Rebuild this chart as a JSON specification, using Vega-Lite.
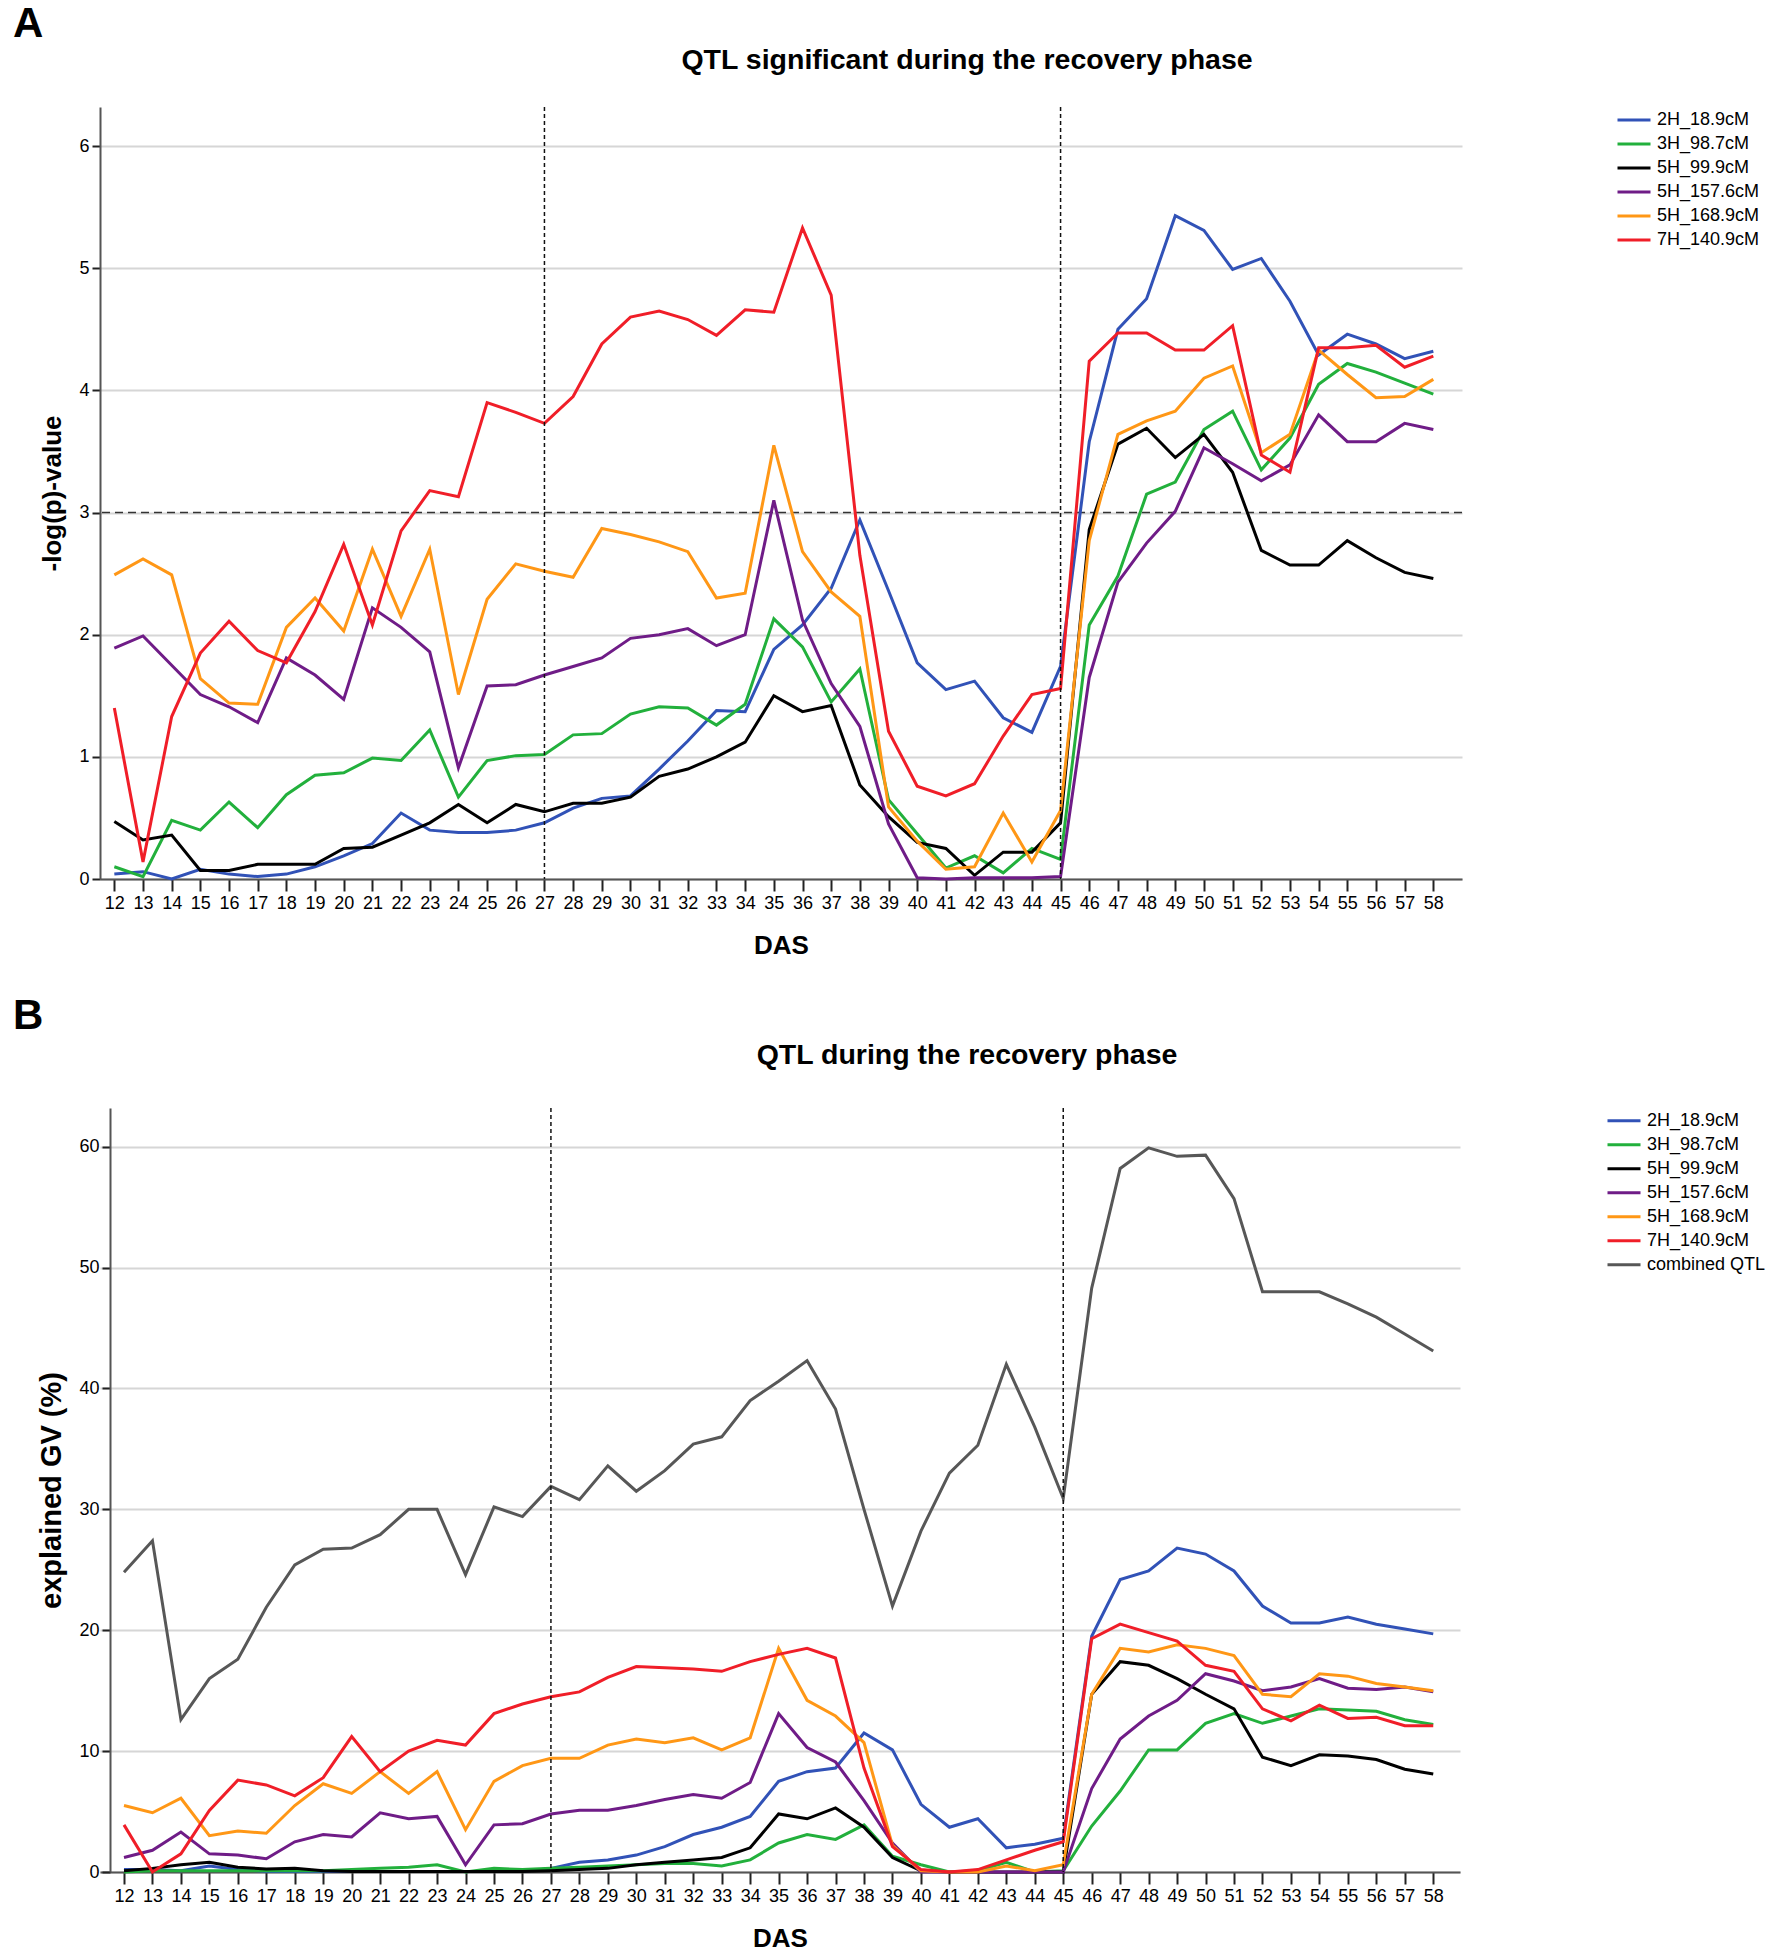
{
  "$schema": "https://vega.github.io/schema/vega-lite/v6.json",
  "background": "white",
  "padding": {"left": 12, "top": 2, "right": 0, "bottom": 0},
  "config": {
    "view": {"stroke": null},
    "font": "Liberation Sans",
    "title": {"color": "black", "font": "Liberation Sans"},
    "axis": {"labelColor": "black", "titleColor": "black", "labelFont": "Liberation Sans", "titleFont": "Liberation Sans"},
    "axisX": {
      "grid": false, "labelFontSize": 18, "labelOverlap": false, "labelFlush": false,
      "tickSize": 12, "tickWidth": 2, "tickColor": "#222222", "domainColor": "#555555", "domainWidth": 2,
      "labelPadding": 3, "titleFontSize": 26, "titleFontWeight": "bold", "titlePadding": 20
    },
    "axisY": {
      "grid": true, "gridColor": "#d6d6d6", "gridWidth": 2, "labelFontSize": 18,
      "tickSize": 8, "tickWidth": 2, "tickColor": "#222222", "domainColor": "#555555", "domainWidth": 2,
      "labelPadding": 3, "titleFontSize": 26, "titleFontWeight": "bold"
    },
    "legend": {"labelColor": "black", "labelFont": "Liberation Sans"}
  },
  "datasets": {
    "qa": [
      {"d":12,"s1":0.04,"s2":0.10,"s3":0.47,"s4":1.89,"s5":2.49,"s6":1.40},
      {"d":13,"s1":0.06,"s2":0.02,"s3":0.32,"s4":1.99,"s5":2.62,"s6":0.14},
      {"d":14,"s1":0.00,"s2":0.48,"s3":0.36,"s4":1.75,"s5":2.49,"s6":1.33},
      {"d":15,"s1":0.08,"s2":0.40,"s3":0.07,"s4":1.51,"s5":1.64,"s6":1.85},
      {"d":16,"s1":0.04,"s2":0.63,"s3":0.07,"s4":1.41,"s5":1.44,"s6":2.11},
      {"d":17,"s1":0.02,"s2":0.42,"s3":0.12,"s4":1.28,"s5":1.43,"s6":1.87},
      {"d":18,"s1":0.04,"s2":0.69,"s3":0.12,"s4":1.81,"s5":2.06,"s6":1.77},
      {"d":19,"s1":0.10,"s2":0.85,"s3":0.12,"s4":1.67,"s5":2.30,"s6":2.19},
      {"d":20,"s1":0.19,"s2":0.87,"s3":0.25,"s4":1.47,"s5":2.03,"s6":2.74},
      {"d":21,"s1":0.29,"s2":0.99,"s3":0.26,"s4":2.22,"s5":2.70,"s6":2.08},
      {"d":22,"s1":0.54,"s2":0.97,"s3":0.36,"s4":2.06,"s5":2.15,"s6":2.85},
      {"d":23,"s1":0.40,"s2":1.22,"s3":0.46,"s4":1.86,"s5":2.70,"s6":3.18},
      {"d":24,"s1":0.38,"s2":0.67,"s3":0.61,"s4":0.91,"s5":1.51,"s6":3.13},
      {"d":25,"s1":0.38,"s2":0.97,"s3":0.46,"s4":1.58,"s5":2.29,"s6":3.90},
      {"d":26,"s1":0.40,"s2":1.01,"s3":0.61,"s4":1.59,"s5":2.58,"s6":3.82},
      {"d":27,"s1":0.46,"s2":1.02,"s3":0.55,"s4":1.67,"s5":2.52,"s6":3.73},
      {"d":28,"s1":0.58,"s2":1.18,"s3":0.62,"s4":1.74,"s5":2.47,"s6":3.95},
      {"d":29,"s1":0.66,"s2":1.19,"s3":0.62,"s4":1.81,"s5":2.87,"s6":4.38},
      {"d":30,"s1":0.68,"s2":1.35,"s3":0.67,"s4":1.97,"s5":2.82,"s6":4.60},
      {"d":31,"s1":0.90,"s2":1.41,"s3":0.84,"s4":2.00,"s5":2.76,"s6":4.65},
      {"d":32,"s1":1.13,"s2":1.40,"s3":0.90,"s4":2.05,"s5":2.68,"s6":4.58},
      {"d":33,"s1":1.38,"s2":1.26,"s3":1.00,"s4":1.91,"s5":2.30,"s6":4.45},
      {"d":34,"s1":1.37,"s2":1.43,"s3":1.12,"s4":2.00,"s5":2.34,"s6":4.66},
      {"d":35,"s1":1.88,"s2":2.13,"s3":1.50,"s4":3.10,"s5":3.55,"s6":4.64},
      {"d":36,"s1":2.08,"s2":1.90,"s3":1.37,"s4":2.12,"s5":2.68,"s6":5.33},
      {"d":37,"s1":2.38,"s2":1.45,"s3":1.42,"s4":1.60,"s5":2.35,"s6":4.78},
      {"d":38,"s1":2.94,"s2":1.72,"s3":0.77,"s4":1.25,"s5":2.15,"s6":2.65},
      {"d":39,"s1":2.36,"s2":0.65,"s3":0.51,"s4":0.45,"s5":0.59,"s6":1.21},
      {"d":40,"s1":1.77,"s2":0.37,"s3":0.30,"s4":0.01,"s5":0.31,"s6":0.76},
      {"d":41,"s1":1.55,"s2":0.09,"s3":0.25,"s4":0.00,"s5":0.08,"s6":0.68},
      {"d":42,"s1":1.62,"s2":0.19,"s3":0.03,"s4":0.01,"s5":0.10,"s6":0.78},
      {"d":43,"s1":1.32,"s2":0.05,"s3":0.22,"s4":0.01,"s5":0.54,"s6":1.17},
      {"d":44,"s1":1.20,"s2":0.25,"s3":0.22,"s4":0.01,"s5":0.14,"s6":1.51},
      {"d":45,"s1":1.74,"s2":0.16,"s3":0.46,"s4":0.02,"s5":0.56,"s6":1.56},
      {"d":46,"s1":3.58,"s2":2.08,"s3":2.86,"s4":1.65,"s5":2.77,"s6":4.24},
      {"d":47,"s1":4.50,"s2":2.48,"s3":3.56,"s4":2.43,"s5":3.64,"s6":4.47},
      {"d":48,"s1":4.75,"s2":3.15,"s3":3.69,"s4":2.75,"s5":3.75,"s6":4.47},
      {"d":49,"s1":5.43,"s2":3.25,"s3":3.45,"s4":3.01,"s5":3.83,"s6":4.33},
      {"d":50,"s1":5.31,"s2":3.68,"s3":3.64,"s4":3.53,"s5":4.10,"s6":4.33},
      {"d":51,"s1":4.99,"s2":3.83,"s3":3.33,"s4":3.40,"s5":4.20,"s6":4.53},
      {"d":52,"s1":5.08,"s2":3.35,"s3":2.69,"s4":3.26,"s5":3.49,"s6":3.47},
      {"d":53,"s1":4.73,"s2":3.61,"s3":2.57,"s4":3.39,"s5":3.64,"s6":3.33},
      {"d":54,"s1":4.29,"s2":4.05,"s3":2.57,"s4":3.80,"s5":4.33,"s6":4.35},
      {"d":55,"s1":4.46,"s2":4.22,"s3":2.77,"s4":3.58,"s5":4.13,"s6":4.35},
      {"d":56,"s1":4.38,"s2":4.15,"s3":2.63,"s4":3.58,"s5":3.94,"s6":4.37},
      {"d":57,"s1":4.26,"s2":4.06,"s3":2.51,"s4":3.73,"s5":3.95,"s6":4.19},
      {"d":58,"s1":4.32,"s2":3.97,"s3":2.46,"s4":3.68,"s5":4.09,"s6":4.28}
    ],
    "qb": [
      {"d":12,"s1":0.2,"s2":0.0,"s3":0.1,"s4":1.2,"s5":5.5,"s6":3.9,"s7":24.8},
      {"d":13,"s1":0.2,"s2":0.1,"s3":0.3,"s4":1.8,"s5":4.9,"s6":0.0,"s7":27.4},
      {"d":14,"s1":0.1,"s2":0.1,"s3":0.6,"s4":3.3,"s5":6.1,"s6":1.5,"s7":12.6},
      {"d":15,"s1":0.5,"s2":0.1,"s3":0.8,"s4":1.5,"s5":3.0,"s6":5.1,"s7":16.0},
      {"d":16,"s1":0.2,"s2":0.1,"s3":0.4,"s4":1.4,"s5":3.4,"s6":7.6,"s7":17.6},
      {"d":17,"s1":0.05,"s2":0.1,"s3":0.25,"s4":1.1,"s5":3.2,"s6":7.2,"s7":21.9},
      {"d":18,"s1":0.05,"s2":0.1,"s3":0.3,"s4":2.5,"s5":5.5,"s6":6.3,"s7":25.4},
      {"d":19,"s1":0.05,"s2":0.1,"s3":0.1,"s4":3.1,"s5":7.3,"s6":7.8,"s7":26.7},
      {"d":20,"s1":0.05,"s2":0.2,"s3":0.05,"s4":2.9,"s5":6.5,"s6":11.2,"s7":26.8},
      {"d":21,"s1":0.05,"s2":0.3,"s3":0.05,"s4":4.9,"s5":8.3,"s6":8.3,"s7":27.9},
      {"d":22,"s1":0.05,"s2":0.4,"s3":0.05,"s4":4.4,"s5":6.5,"s6":10.0,"s7":30.0},
      {"d":23,"s1":0.05,"s2":0.6,"s3":0.05,"s4":4.6,"s5":8.3,"s6":10.9,"s7":30.0},
      {"d":24,"s1":0.05,"s2":0.0,"s3":0.05,"s4":0.6,"s5":3.5,"s6":10.5,"s7":24.6},
      {"d":25,"s1":0.05,"s2":0.3,"s3":0.05,"s4":3.9,"s5":7.5,"s6":13.1,"s7":30.2},
      {"d":26,"s1":0.05,"s2":0.2,"s3":0.05,"s4":4.0,"s5":8.8,"s6":13.9,"s7":29.4},
      {"d":27,"s1":0.3,"s2":0.3,"s3":0.1,"s4":4.8,"s5":9.4,"s6":14.5,"s7":31.9},
      {"d":28,"s1":0.8,"s2":0.4,"s3":0.2,"s4":5.1,"s5":9.4,"s6":14.9,"s7":30.8},
      {"d":29,"s1":1.0,"s2":0.5,"s3":0.3,"s4":5.1,"s5":10.5,"s6":16.1,"s7":33.6},
      {"d":30,"s1":1.4,"s2":0.6,"s3":0.6,"s4":5.5,"s5":11.0,"s6":17.0,"s7":31.5},
      {"d":31,"s1":2.1,"s2":0.7,"s3":0.8,"s4":6.0,"s5":10.7,"s6":16.9,"s7":33.2},
      {"d":32,"s1":3.1,"s2":0.7,"s3":1.0,"s4":6.4,"s5":11.1,"s6":16.8,"s7":35.4},
      {"d":33,"s1":3.7,"s2":0.5,"s3":1.2,"s4":6.1,"s5":10.1,"s6":16.6,"s7":36.0},
      {"d":34,"s1":4.6,"s2":1.0,"s3":2.0,"s4":7.4,"s5":11.1,"s6":17.4,"s7":39.0},
      {"d":35,"s1":7.5,"s2":2.4,"s3":4.8,"s4":13.1,"s5":18.5,"s6":18.0,"s7":40.6},
      {"d":36,"s1":8.3,"s2":3.1,"s3":4.4,"s4":10.3,"s5":14.2,"s6":18.5,"s7":42.3},
      {"d":37,"s1":8.6,"s2":2.7,"s3":5.3,"s4":9.1,"s5":12.9,"s6":17.7,"s7":38.3},
      {"d":38,"s1":11.5,"s2":3.9,"s3":3.7,"s4":5.9,"s5":10.7,"s6":8.6,"s7":30.0},
      {"d":39,"s1":10.1,"s2":1.3,"s3":1.2,"s4":2.4,"s5":2.2,"s6":2.1,"s7":22.0},
      {"d":40,"s1":5.6,"s2":0.6,"s3":0.1,"s4":0.0,"s5":0.1,"s6":0.2,"s7":28.2},
      {"d":41,"s1":3.7,"s2":0.0,"s3":0.0,"s4":0.0,"s5":0.0,"s6":0.0,"s7":33.0},
      {"d":42,"s1":4.4,"s2":0.1,"s3":0.0,"s4":0.0,"s5":0.0,"s6":0.2,"s7":35.3},
      {"d":43,"s1":2.0,"s2":0.8,"s3":0.0,"s4":0.0,"s5":0.5,"s6":1.0,"s7":42.0},
      {"d":44,"s1":2.3,"s2":0.0,"s3":0.0,"s4":0.0,"s5":0.1,"s6":1.8,"s7":36.8},
      {"d":45,"s1":2.8,"s2":0.1,"s3":0.0,"s4":0.0,"s5":0.6,"s6":2.5,"s7":30.9},
      {"d":46,"s1":19.5,"s2":3.8,"s3":14.7,"s4":6.9,"s5":14.7,"s6":19.3,"s7":48.3},
      {"d":47,"s1":24.2,"s2":6.7,"s3":17.4,"s4":11.0,"s5":18.5,"s6":20.5,"s7":58.2},
      {"d":48,"s1":24.9,"s2":10.1,"s3":17.1,"s4":12.9,"s5":18.2,"s6":19.8,"s7":59.9},
      {"d":49,"s1":26.8,"s2":10.1,"s3":16.0,"s4":14.2,"s5":18.8,"s6":19.1,"s7":59.2},
      {"d":50,"s1":26.3,"s2":12.3,"s3":14.7,"s4":16.4,"s5":18.5,"s6":17.1,"s7":59.3},
      {"d":51,"s1":24.9,"s2":13.1,"s3":13.5,"s4":15.8,"s5":17.9,"s6":16.6,"s7":55.7},
      {"d":52,"s1":22.0,"s2":12.3,"s3":9.5,"s4":15.0,"s5":14.7,"s6":13.5,"s7":48.0},
      {"d":53,"s1":20.6,"s2":12.9,"s3":8.8,"s4":15.3,"s5":14.5,"s6":12.5,"s7":48.0},
      {"d":54,"s1":20.6,"s2":13.5,"s3":9.7,"s4":16.0,"s5":16.4,"s6":13.8,"s7":48.0},
      {"d":55,"s1":21.1,"s2":13.4,"s3":9.6,"s4":15.2,"s5":16.2,"s6":12.7,"s7":47.0},
      {"d":56,"s1":20.5,"s2":13.3,"s3":9.3,"s4":15.1,"s5":15.6,"s6":12.8,"s7":45.9},
      {"d":57,"s1":20.1,"s2":12.6,"s3":8.5,"s4":15.3,"s5":15.3,"s6":12.1,"s7":44.5},
      {"d":58,"s1":19.7,"s2":12.2,"s3":8.1,"s4":14.9,"s5":15.0,"s6":12.1,"s7":43.1}
    ],
    "phases": [{"d": 27}, {"d": 45}],
    "threshold": [{"v": 3}]
  },
  "columns": 1,
  "spacing": 36,
  "resolve": {
    "scale": {"x": "independent", "y": "independent", "color": "independent"},
    "legend": {"color": "independent"}
  },
  "concat": [
    {
      "title": {"text": "A", "anchor": "start", "frame": "bounds", "fontSize": 42, "fontWeight": "bold", "dx": -27, "offset": 0},
      "vconcat": [
        {
          "title": {"text": "QTL significant during the recovery phase", "anchor": "middle", "frame": "group", "fontSize": 28.5, "fontWeight": "bold", "dx": 186, "offset": 32},
          "width": 1362,
          "height": 772,
          "layer": [
            {
              "data": {"name": "threshold"},
              "mark": {"type": "rule", "color": "#333333", "strokeWidth": 1.5, "strokeDash": [8, 5]},
              "encoding": {
                "y": {
                  "field": "v", "type": "quantitative", "title": "-log(p)-value",
                  "scale": {"domain": [0, 6.32], "nice": false},
                  "axis": {"values": [0, 1, 2, 3, 4, 5, 6], "format": "d", "titlePadding": 13}
                }
              }
            },
            {
              "data": {"name": "qa"},
              "transform": [{"fold": ["s1", "s2", "s3", "s4", "s5", "s6"], "as": ["k", "v"]}],
              "mark": {"type": "line", "strokeWidth": 3},
              "encoding": {
                "x": {
                  "field": "d", "type": "quantitative", "title": "DAS",
                  "scale": {"domain": [11.5, 59], "nice": false, "zero": false},
                  "axis": {"values": [12,13,14,15,16,17,18,19,20,21,22,23,24,25,26,27,28,29,30,31,32,33,34,35,36,37,38,39,40,41,42,43,44,45,46,47,48,49,50,51,52,53,54,55,56,57,58], "format": "d"}
                },
                "y": {
                  "field": "v", "type": "quantitative", "title": "-log(p)-value",
                  "scale": {"domain": [0, 6.32], "nice": false},
                  "axis": {"values": [0, 1, 2, 3, 4, 5, 6], "format": "d", "titlePadding": 13}
                },
                "color": {
                  "field": "k", "type": "nominal",
                  "scale": {"domain": ["s1", "s2", "s3", "s4", "s5", "s6"], "range": ["#3152b7", "#22b03c", "#000000", "#6f1c87", "#ff9716", "#f01e28"]},
                  "legend": {
                    "title": null, "orient": "none", "legendX": 1516, "legendY": 1, "padding": 0,
                    "symbolType": "stroke", "symbolSize": 1089, "symbolStrokeWidth": 3,
                    "labelFontSize": 18, "labelOffset": 5, "rowPadding": 0, "clipHeight": 24,
                    "labelExpr": "{'s1':'2H_18.9cM','s2':'3H_98.7cM','s3':'5H_99.9cM','s4':'5H_157.6cM','s5':'5H_168.9cM','s6':'7H_140.9cM'}[datum.value]"
                  }
                }
              }
            },
            {
              "data": {"name": "phases"},
              "mark": {"type": "rule", "color": "#111111", "strokeWidth": 1.5, "strokeDash": [4, 3]},
              "encoding": {
                "x": {
                  "field": "d", "type": "quantitative", "title": "DAS",
                  "scale": {"domain": [11.5, 59], "nice": false, "zero": false},
                  "axis": {"values": [12,13,14,15,16,17,18,19,20,21,22,23,24,25,26,27,28,29,30,31,32,33,34,35,36,37,38,39,40,41,42,43,44,45,46,47,48,49,50,51,52,53,54,55,56,57,58], "format": "d"}
                }
              }
            }
          ]
        }
      ]
    },
    {
      "title": {"text": "B", "anchor": "start", "frame": "bounds", "fontSize": 42, "fontWeight": "bold", "dx": -25, "offset": 3},
      "vconcat": [
        {
          "title": {"text": "QTL during the recovery phase", "anchor": "middle", "frame": "group", "fontSize": 28.5, "fontWeight": "bold", "dx": 187, "offset": 38},
          "width": 1360,
          "height": 764,
          "layer": [
            {
              "data": {"name": "qb"},
              "transform": [{"fold": ["s7", "s1", "s2", "s3", "s4", "s5", "s6"], "as": ["k", "v"]}],
              "mark": {"type": "line", "strokeWidth": 3},
              "encoding": {
                "x": {
                  "field": "d", "type": "quantitative", "title": "DAS",
                  "scale": {"domain": [11.157, 58.94], "nice": false, "zero": false},
                  "axis": {"values": [12,13,14,15,16,17,18,19,20,21,22,23,24,25,26,27,28,29,30,31,32,33,34,35,36,37,38,39,40,41,42,43,44,45,46,47,48,49,50,51,52,53,54,55,56,57,58], "format": "d"}
                },
                "y": {
                  "field": "v", "type": "quantitative", "title": "explained GV (%)",
                  "scale": {"domain": [0, 63.2], "nice": false},
                  "axis": {"values": [0, 10, 20, 30, 40, 50, 60], "format": "d", "offset": -10, "titlePadding": 12, "titleFontSize": 29}
                },
                "color": {
                  "field": "k", "type": "nominal",
                  "scale": {"domain": ["s1", "s2", "s3", "s4", "s5", "s6", "s7"], "range": ["#3152b7", "#22b03c", "#000000", "#6f1c87", "#ff9716", "#f01e28", "#575757"]},
                  "legend": {
                    "title": null, "orient": "none", "legendX": 1506, "legendY": 1, "padding": 0,
                    "symbolType": "stroke", "symbolSize": 1089, "symbolStrokeWidth": 3,
                    "labelFontSize": 18, "labelOffset": 5, "rowPadding": 0, "clipHeight": 23.5,
                    "labelExpr": "{'s1':'2H_18.9cM','s2':'3H_98.7cM','s3':'5H_99.9cM','s4':'5H_157.6cM','s5':'5H_168.9cM','s6':'7H_140.9cM','s7':'combined QTL'}[datum.value]"
                  }
                }
              }
            },
            {
              "data": {"name": "phases"},
              "mark": {"type": "rule", "color": "#111111", "strokeWidth": 1.5, "strokeDash": [4, 3]},
              "encoding": {
                "x": {
                  "field": "d", "type": "quantitative", "title": "DAS",
                  "scale": {"domain": [11.157, 58.94], "nice": false, "zero": false},
                  "axis": {"values": [12,13,14,15,16,17,18,19,20,21,22,23,24,25,26,27,28,29,30,31,32,33,34,35,36,37,38,39,40,41,42,43,44,45,46,47,48,49,50,51,52,53,54,55,56,57,58], "format": "d"}
                }
              }
            }
          ]
        }
      ]
    }
  ]
}
